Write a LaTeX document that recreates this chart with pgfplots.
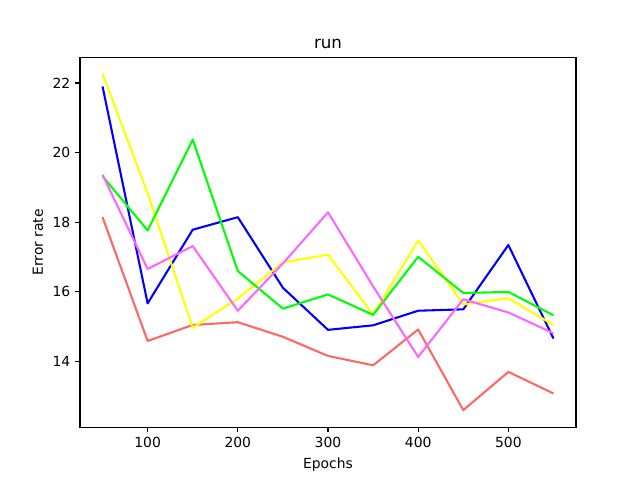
\documentclass[border=0pt]{standalone}
\usepackage{pgfplots}
\pgfplotsset{compat=1.18}
\usepackage{fontspec}
\setmainfont{DejaVu Sans}
\definecolor{cred}{RGB}{255,102,102}
\definecolor{cblue}{RGB}{0,0,255}
\definecolor{cyellow}{RGB}{255,255,0}
\definecolor{cgreen}{RGB}{0,255,0}
\definecolor{cmag}{RGB}{255,102,255}
\begin{document}
\begin{tikzpicture}
\path[fill=white] (0,0) rectangle (460.8pt,345.6pt);
\begin{axis}[
  at={(57.6pt,38.016pt)}, anchor=south west,
  scale only axis, width=357.12pt, height=266.11pt,
  xmin=25, xmax=575, ymin=12.1, ymax=22.73,
  xtick={100,200,300,400,500}, ytick={14,16,18,20,22},
  xtick pos=bottom, ytick pos=left,
  tick align=outside, major tick length=3.5pt,
  every tick/.style={black, line width=0.8pt},
  axis line style={line width=0.8pt},
  tick label style={font=\fontsize{10}{12}\selectfont},
  /pgf/number format/assume math mode=true,
  xticklabel style={yshift=-0.5pt},
  title={run}, title style={font=\fontsize{12}{14}\selectfont, yshift=-3pt},
  xlabel={Epochs}, ylabel={Error rate},
  label style={font=\fontsize{10}{12}\selectfont},
  every axis plot/.append style={line width=1.5pt, line join=round},
  clip=true,
]
\addplot[cred] coordinates {(50,18.14)(100,14.58)(150,15.04)(200,15.12)(250,14.70)(300,14.15)(350,13.88)(400,14.91)(450,12.59)(500,13.69)(550,13.07)};
\addplot[cblue] coordinates {(50,21.90)(100,15.66)(150,17.78)(200,18.14)(250,16.11)(300,14.90)(350,15.03)(400,15.45)(450,15.49)(500,17.34)(550,14.65)};
\addplot[cyellow] coordinates {(50,22.27)(100,18.83)(150,14.96)(200,15.80)(250,16.84)(300,17.06)(350,15.34)(400,17.47)(450,15.63)(500,15.81)(550,15.04)};
\addplot[cgreen] coordinates {(50,19.32)(100,17.76)(150,20.37)(200,16.59)(250,15.51)(300,15.92)(350,15.33)(400,17.00)(450,15.96)(500,15.99)(550,15.32)};
\addplot[cmag] coordinates {(50,19.36)(100,16.65)(150,17.31)(200,15.45)(250,16.81)(300,18.28)(350,16.15)(400,14.12)(450,15.78)(500,15.40)(550,14.80)};
\end{axis}
\end{tikzpicture}
\end{document}
